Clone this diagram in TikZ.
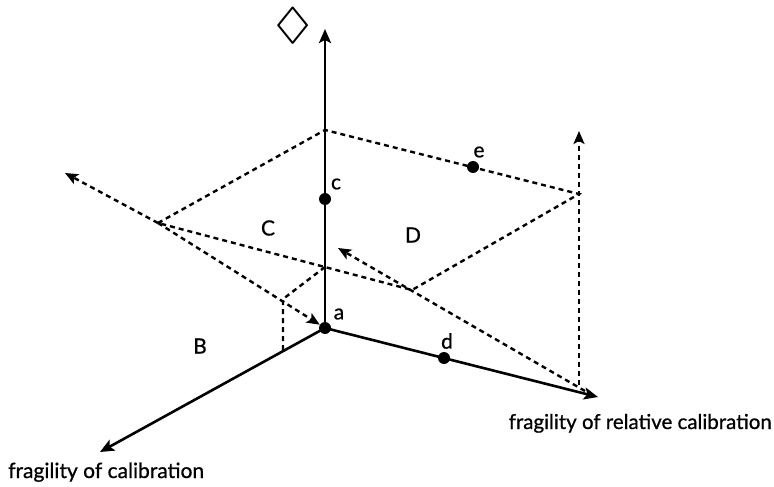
\documentclass[tikz,border=0pt]{standalone}
\usepackage{amssymb}
\usepackage{fontspec}
\setmainfont{Lato}[FakeBold=0.8]
\usetikzlibrary{arrows.meta}
\begin{document}
\begin{tikzpicture}[x=1pt,y=-1pt,
  axis/.style={line width=2.6pt,-{Stealth[length=14pt,width=12pt,inset=3pt]}},
  dashline/.style={line width=2.4pt,dash pattern=on 5pt off 4pt},
  dasharrow/.style={dashline,-{Stealth[length=13pt,width=11pt,inset=3pt]}},
  dot/.style={circle,fill=black,inner sep=0pt,minimum size=12pt},
  lbl/.style={font=\fontsize{21}{21}\selectfont,inner sep=0pt},
  ]
\useasboundingbox (0,0) rectangle (774,487);
% axes
\node[dot] (a) at (325,328) {};
\coordinate (ztip) at (325,29);
\coordinate (xtip) at (100,452);
\coordinate (ytip) at (598,397);
\draw[axis] (a.center) -- (ztip);
\draw[axis] (a.center) -- (xtip);
\draw[axis] (a.center) -- (ytip);
% plane
\coordinate (P) at (325,130);
\coordinate (L) at (158,223);
\coordinate (R) at (579,194);
\coordinate (Q) at (412,290);
\draw[dashline] (L) -- (P) -- (R) -- (Q) -- cycle;
% small box
\coordinate (K) at (325,267);
\coordinate (F) at (283,299);
\coordinate (G) at (283,351);
\draw[dashline] (K) -- (F) -- (G);
% dashed arrows
\coordinate (Ltip) at (65,173);
\draw[dasharrow] (L) -- (Ltip);
\draw[dasharrow] (L) -- (a);
\coordinate (S) at (585,391);
\coordinate (Stip) at (338,248);
\draw[dasharrow] (S) -- (Stip);
\coordinate (V0) at (579,385);
\coordinate (Vtip) at (579,131);
\draw[dasharrow] (V0) -- (Vtip);
% points
\node[dot] (c) at (325,199) {};
\node[dot] (d) at (444,358) {};
\node[dot] (e) at (473,167) {};
% labels
\node[lbl] (la) at (339,314) {a};
\node[lbl] (lc) at (336,184) {c};
\node[lbl] (ld) at (447,341) {d};
\node[lbl] (le) at (479,152) {e};
\node[lbl] (lB) at (200,346) {B};
\node[lbl] (lC) at (268,228) {C};
\node[lbl] (lD) at (413,235) {D};
\node[lbl,anchor=base west] (xlab) at (8,478) {fragility of calibration};
\node[lbl,font=\fontsize{20.5}{20.5}\selectfont,anchor=base east] (ylab) at (772,429) {fragility of relative calibration};
\node[inner sep=0pt] (dia) at (293,26) {\scalebox{1.27}[1.0]{\fontsize{44}{44}\selectfont$\Diamond$}};
\end{tikzpicture}
\end{document}
